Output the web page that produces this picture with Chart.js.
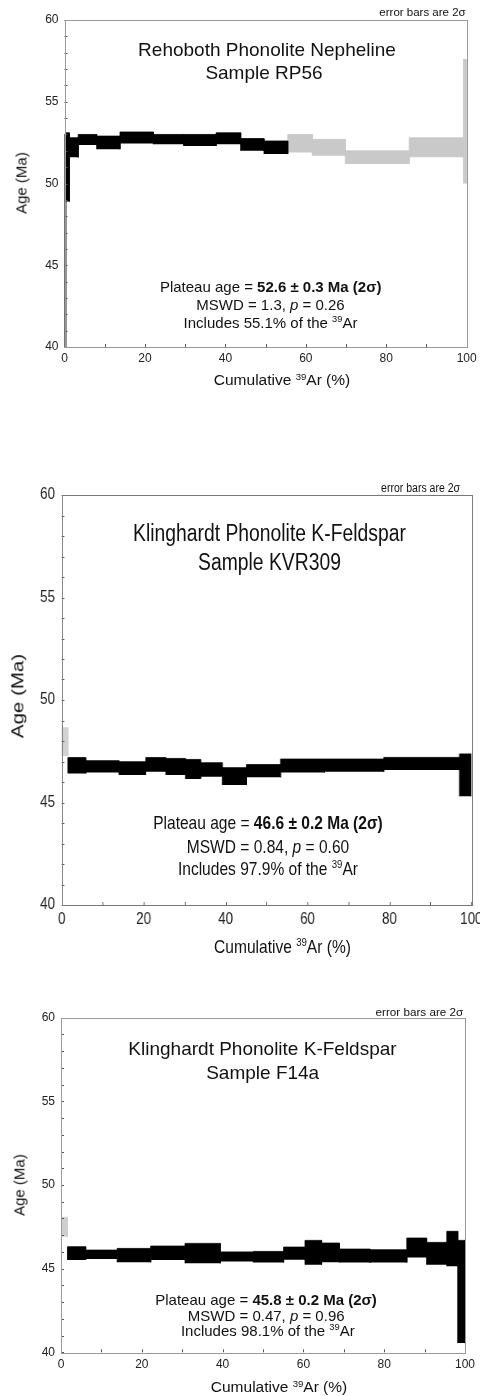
<!DOCTYPE html>
<html>
<head>
<meta charset="utf-8">
<script src="https://cdn.jsdelivr.net/npm/chart.js@4.4.1/dist/chart.umd.min.js"></script>
<style>
  body { margin: 0; background: #fff; width: 480px; height: 1396px; overflow: hidden; position: relative;
         font-family: "Liberation Sans", Arial, sans-serif; color: #111; }
  .p { position: absolute; left: 0; }
  .p canvas { position: absolute; left: 0; top: 0; }
  .t { position: absolute; white-space: nowrap; line-height: 1; transform: translate(-50%, -50%); }
  .r { transform: translate(-100%, -50%); }
  .v { transform: translate(-50%, -50%) rotate(-90deg); }
  sup { font-size: 0.62em; vertical-align: 0.55em; line-height: 0; }
</style>
</head>
<body>

<div class="p" style="top:0;width:480px;height:400px">
  <canvas id="c1" width="480" height="400"></canvas>
  <div class="t r" style="left:465.7px;top:13px;font-size:11.5px">error bars are 2σ</div>
  <div class="t" style="left:267px;top:49px;font-size:19px">Rehoboth Phonolite Nepheline</div>
  <div class="t" style="left:264px;top:72px;font-size:19px">Sample RP56</div>
  <div class="t" style="left:270.7px;top:286px;font-size:15px">Plateau age = <b>52.6 ± 0.3 Ma (2σ)</b></div>
  <div class="t" style="left:270.5px;top:304px;font-size:15px">MSWD = 1.3, <i>p</i> = 0.26</div>
  <div class="t" style="left:270.5px;top:321.7px;font-size:15px">Includes 55.1% of the <sup>39</sup>Ar</div>
  <div class="t" style="left:282px;top:380px;font-size:15.5px">Cumulative <sup>39</sup>Ar (%)</div>
  <div class="t v" style="left:21px;top:183px;font-size:15px">Age (Ma)</div>
</div>

<div class="p" style="top:440px;width:571.4px;height:520px;transform:scaleX(0.84);transform-origin:0 0">
  <canvas id="c2" width="571" height="520"></canvas>
  <div class="t r" style="left:547.6px;top:47.7px;font-size:12.5px">error bars are 2σ</div>
  <div class="t" style="left:320.8px;top:92.7px;font-size:23px">Klinghardt Phonolite K-Feldspar</div>
  <div class="t" style="left:320.8px;top:121.7px;font-size:23px">Sample KVR309</div>
  <div class="t" style="left:319px;top:383.3px;font-size:18.5px">Plateau age = <b>46.6 ± 0.2 Ma (2σ)</b></div>
  <div class="t" style="left:319px;top:406.7px;font-size:18.5px">MSWD = 0.84, <i>p</i> = 0.60</div>
  <div class="t" style="left:319px;top:429.3px;font-size:18.5px">Includes 97.9% of the <sup>39</sup>Ar</div>
  <div class="t" style="left:336.3px;top:506.7px;font-size:18.5px">Cumulative <sup>39</sup>Ar (%)</div>
  <div class="t v" style="left:20.8px;top:256px;font-size:20.5px">Age (Ma)</div>
</div>

<div class="p" style="top:990px;width:480px;height:406px">
  <canvas id="c3" width="480" height="406"></canvas>
  <div class="t r" style="left:463.3px;top:21.7px;font-size:11.7px">error bars are 2σ</div>
  <div class="t" style="left:262.5px;top:58.3px;font-size:19px">Klinghardt Phonolite K-Feldspar</div>
  <div class="t" style="left:262.7px;top:81.7px;font-size:19px">Sample F14a</div>
  <div class="t" style="left:266px;top:309px;font-size:15px">Plateau age = <b>45.8 ± 0.2 Ma (2σ)</b></div>
  <div class="t" style="left:266.2px;top:324.5px;font-size:15px">MSWD = 0.47, <i>p</i> = 0.96</div>
  <div class="t" style="left:267.8px;top:339.5px;font-size:15px">Includes 98.1% of the <sup>39</sup>Ar</div>
  <div class="t" style="left:279px;top:396.7px;font-size:15.5px">Cumulative <sup>39</sup>Ar (%)</div>
  <div class="t v" style="left:18.5px;top:195px;font-size:15px">Age (Ma)</div>
</div>

<script>
// tick labels shared by all three spectra
const xTicks = [0, 20, 40, 60, 80, 100];
const yTicks = [40, 45, 50, 55, 60];

// Rehoboth RP56: step edges (cumulative 39Ar %), age low / high (Ma, 2 sigma)
const rpEdges = [0, 0.3, 1.2, 3.4, 8.0, 13.8, 22.1, 29.6, 37.7, 43.8, 49.6, 55.5, 61.6, 69.8, 85.7, 99.2, 100];
const rpLow   = [38.0, 48.9, 51.6, 52.35, 52.1, 52.45, 52.4, 52.3, 52.4, 52.0, 51.8, 51.9, 51.7, 51.2, 51.6, 50.0];
const rpHigh  = [53.0, 53.1, 52.8, 53.0, 52.9, 53.15, 53.0, 53.0, 53.1, 52.75, 52.6, 53.0, 52.7, 52.0, 52.8, 57.6];
const rpPlateau = [1, 1, 1, 1, 1, 1, 1, 1, 1, 1, 1, 0, 0, 0, 0, 0];

// Klinghardt KVR309
const kvEdges = [0, 1.5, 5.85, 14.0, 20.5, 25.4, 30.2, 33.9, 39.2, 45.1, 53.4, 64.2, 78.6, 97.1, 100];
const kvLow   = [47.27, 46.42, 46.46, 46.34, 46.5, 46.34, 46.15, 46.26, 45.85, 46.23, 46.46, 46.5, 46.58, 45.3];
const kvHigh  = [48.65, 47.19, 47.04, 46.99, 47.19, 47.15, 47.1, 46.94, 46.7, 46.85, 47.12, 47.12, 47.2, 47.37];
const kvPlateau = [0, 1, 1, 1, 1, 1, 1, 1, 1, 1, 1, 1, 1, 1];

// Klinghardt F14a
const fEdges = [0, 1.6, 6.1, 13.9, 22.2, 30.7, 39.4, 47.6, 55.1, 60.4, 64.5, 68.9, 76.5, 85.6, 90.5, 95.5, 98.2, 100];
const fLow   = [46.9, 45.52, 45.58, 45.38, 45.52, 45.32, 45.42, 45.37, 45.53, 45.24, 45.39, 45.37, 45.37, 45.67, 45.24, 45.14, 40.55];
const fHigh  = [48.07, 46.31, 46.11, 46.21, 46.35, 46.51, 46.0, 46.03, 46.29, 46.69, 46.53, 46.17, 46.13, 46.83, 46.57, 47.23, 46.69];
const fPlateau = [0, 1, 1, 1, 1, 1, 1, 1, 1, 1, 1, 1, 1, 1, 1, 1, 1];

const fontFamily = '"Liberation Sans", Arial, sans-serif';

// box around the plot plus small inward tick marks
const framePlugin = {
    id: 'frame',
    afterDatasetsDraw(chart, args, opts) {
        const ctx = chart.ctx;
        const a = chart.chartArea;
        const x = chart.scales.x, y = chart.scales.y;
        ctx.save();
        ctx.lineWidth = 1;
        ctx.strokeStyle = opts.tickColor;
        ctx.beginPath();
        for (let v = y.min; v <= y.max; v += 1) {
            const py = Math.round(y.getPixelForValue(v)) + 0.5;
            ctx.moveTo(a.left, py);
            ctx.lineTo(a.left + 3, py);
        }
        for (let v = x.min; v <= x.max; v += 10) {
            const px = Math.round(x.getPixelForValue(v)) + 0.5;
            ctx.moveTo(px, a.bottom);
            ctx.lineTo(px, a.bottom - 3);
        }
        ctx.stroke();
        ctx.strokeStyle = opts.color;
        ctx.strokeRect(Math.round(a.left) + 0.5, Math.round(a.top) + 0.5,
                       Math.round(a.right - a.left), Math.round(a.bottom - a.top));
        ctx.restore();
    }
};

function makeChart(id, edges, low, high, plateau, cfg) {
    const datasets = low.map(function(lo, i) {
        const colour = plateau[i] ? '#000' : cfg.gray;
        return {
            data: [
                {x: edges[i], y: lo}, {x: edges[i], y: high[i]},
                {x: edges[i + 1], y: high[i]}, {x: edges[i + 1], y: lo}
            ],
            fill: 'shape',
            backgroundColor: colour,
            // thin outline in the same colour closes the seams between steps
            borderColor: colour,
            borderWidth: 0.8,
            pointRadius: 0,
            tension: 0,
            clip: 0
        };
    });

    return new Chart(document.getElementById(id), {
        type: 'line',
        data: { datasets: datasets },
        plugins: [framePlugin],
        options: {
            responsive: false,
            animation: false,
            events: [],
            layout: { padding: cfg.pad },
            plugins: {
                legend: { display: false },
                tooltip: { enabled: false },
                frame: { color: cfg.frame, tickColor: '#555' }
            },
            scales: {
                x: {
                    type: 'linear', min: 0, max: 100,
                    afterBuildTicks: s => { s.ticks = xTicks.map(v => ({ value: v })); },
                    ticks: { font: { family: fontFamily, size: cfg.tickSize }, color: '#222',
                             padding: cfg.xPad, maxRotation: 0, autoSkip: false },
                    grid: { display: false, drawTicks: false },
                    border: { display: false },
                    afterFit: s => { s.height = cfg.xh; s.paddingLeft = 0; s.paddingRight = 0; }
                },
                y: {
                    type: 'linear', min: 40, max: 60,
                    afterBuildTicks: s => { s.ticks = yTicks.map(v => ({ value: v })); },
                    ticks: { font: { family: fontFamily, size: cfg.tickSize }, color: '#222',
                             padding: cfg.yPad, autoSkip: false },
                    grid: { display: false, drawTicks: false },
                    border: { display: false },
                    afterFit: s => { s.width = cfg.yw; s.paddingTop = 0; s.paddingBottom = 0; }
                }
            }
        }
    });
}

makeChart('c1', rpEdges, rpLow, rpHigh, rpPlateau, {
    gray: '#c9c9c9', frame: '#9a9a9a', tickSize: 12,
    pad: { left: 0, top: 20, right: 13.3, bottom: 0 }, yw: 64.5, xh: 53, xPad: 4, yPad: 6
});
makeChart('c2', kvEdges, kvLow, kvHigh, kvPlateau, {
    gray: '#d2d2d2', frame: '#777', tickSize: 16,
    pad: { left: 0, top: 55, right: 9.9, bottom: 0 }, yw: 73.5, xh: 55, xPad: 5, yPad: 8
});
makeChart('c3', fEdges, fLow, fHigh, fPlateau, {
    gray: '#cfcfcf', frame: '#9a9a9a', tickSize: 12,
    pad: { left: 0, top: 27.7, right: 15, bottom: 0 }, yw: 61, xh: 43.7, xPad: 4.8, yPad: 6
});
</script>
</body>
</html>
